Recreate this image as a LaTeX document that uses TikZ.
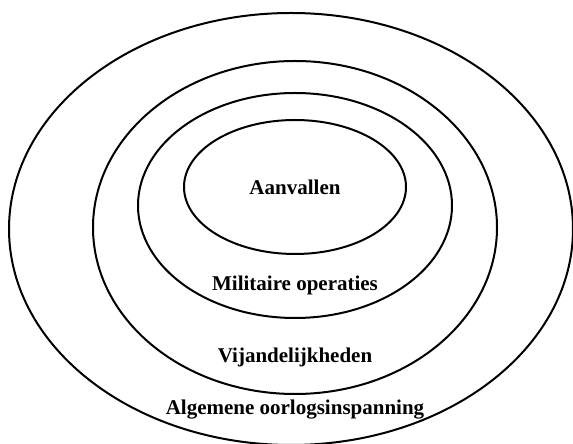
\documentclass[tikz,border=0pt]{standalone}
\usepackage{fontspec}
\setmainfont{Liberation Serif}
\usetikzlibrary{shapes.geometric}
\tikzset{
  every picture/.style={line width=2pt},
  ring/.style={draw=black, ellipse, inner sep=0pt, minimum width=#1},
  label/.style={font=\fontsize{21}{25}\selectfont\bfseries, anchor=base, inner sep=0pt},
}

\begin{document}
\begin{tikzpicture}[x=1pt, y=1pt]
  \useasboundingbox (0,0) rectangle (573,444);
  % nested rings, outside in
  \node[ring=564pt, minimum height=432pt] (effort) at (291,215) {};
  \node[ring=404pt, minimum height=333pt] (hostile) at (295,216.5) {};
  \node[ring=314pt, minimum height=225pt] (ops) at (295,238.5) {};
  \node[ring=222pt, minimum height=134pt] (attack) at (295,257) {};
  % labels
  \node[label] (tattack) at (295,249) {Aanvallen};
  \node[label] (tops) at (295,153) {Militaire operaties};
  \node[label] (thostile) at (295,81) {Vijandelijkheden};
  \node[label] (teffort) at (295,29) {Algemene oorlogsinspanning};
\end{tikzpicture}
\end{document}
